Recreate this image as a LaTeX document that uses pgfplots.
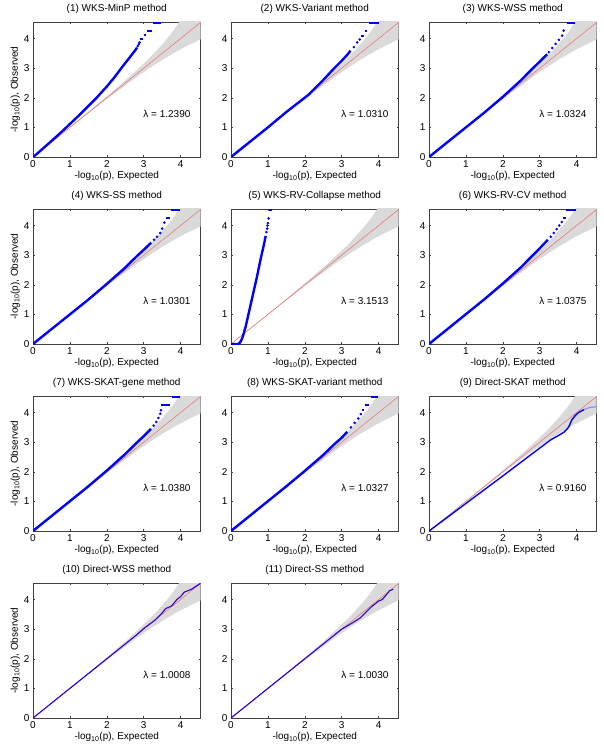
\documentclass[border=0pt]{standalone}
\usepackage{fontspec}
\setmainfont{Liberation Sans}
\usepackage{pgfplots}
\pgfplotsset{compat=1.18}
\usepgfplotslibrary{groupplots}

\definecolor{qqblue}{RGB}{0,0,255}
\definecolor{qqred}{RGB}{232,110,110}
\definecolor{qqband}{RGB}{218,218,218}

% 95% band of the expected order statistics (same in every panel)
\newcommand{\band}{%
  \addplot[fill=qqband,draw=none] coordinates {
    (0,0) (1.54,1.568) (2.063,2.115) (2.239,2.301) (2.54,2.63) (2.841,2.97)
    (3.063,3.234) (3.239,3.45) (3.364,3.616) (3.54,3.86) (3.695,4.09)
    (3.841,4.33) (4.063,4.75) (4.239,5.16) (4.54,6.14)
    (4.54,3.97) (4.239,3.79) (4.063,3.68) (3.841,3.53) (3.695,3.42)
    (3.54,3.31) (3.364,3.167) (3.239,3.07) (3.063,2.92) (2.841,2.73)
    (2.54,2.45) (2.239,2.179) (2.063,2.016) (1.54,1.514) (0,0)} -- cycle;
  \addplot[qqred,line width=0.5pt] coordinates {(0,0) (4.6,4.6)};
}
\newcommand{\lam}[1]{\node[font=\fontsize{10}{12}\selectfont] at (axis cs:3.63,1.47) {λ = #1};}

\pgfplotsset{
  qq/.style={
    scale only axis,width=167.5pt,height=135pt,
    xmin=0,xmax=4.54,ymin=0,ymax=4.56,
    xtick={0,1,2,3,4},ytick={0,1,2,3,4},
    tick align=inside,tick pos=both,major tick length=2pt,
    axis line style={black!75,line width=0.4pt},
    tick style={black!75,line width=0.4pt},
    /pgf/number format/assume math mode=true,
    tick label style={font=\fontsize{10}{12}\selectfont},
    label style={font=\fontsize{10}{12}\selectfont},
    title style={font=\fontsize{10}{12}\selectfont,yshift=-1pt},
    xlabel={-log\textsubscript{10}(p), Expected},
    xlabel style={yshift=3pt},
    ylabel style={yshift=-3pt},
  },
  bl/.style={qqblue,line width=2.4pt,line join=round},
  tiedash/.style={color=qqblue,solid,line width=2pt},
  dots/.style={qqblue,only marks,mark=*,mark size=1.1pt},
}

\begin{document}
\begin{tikzpicture}
\begin{groupplot}[qq,group style={group size=3 by 4,horizontal sep=30.5pt,vertical sep=52pt}]

% (1)
\nextgroupplot[title={(1) WKS-MinP method},ylabel={-log\textsubscript{10}(p), Observed}]
\band
\addplot[bl] coordinates {(0,0) (0.1,0.1) (0.2,0.21) (0.3,0.32) (0.5,0.54) (0.75,0.82)
  (0.92,1.02) (1.25,1.41) (1.5,1.72) (1.73,2.01) (2.0,2.38) (2.2,2.68) (2.41,3.03)
  (2.6,3.33) (2.78,3.62) (2.82,3.70)};
\addplot[dots] coordinates {(2.84,3.75) (2.87,3.81) (2.89,3.87)};
\addplot[tiedash] coordinates {(2.91,3.98) (2.98,3.98)};
\addplot[tiedash] coordinates {(3.0,4.12) (3.07,4.12)};
\addplot[tiedash] coordinates {(3.09,4.27) (3.22,4.27)};
\addplot[tiedash] coordinates {(3.24,4.53) (3.46,4.53)};
\lam{1.2390}

% (2)
\nextgroupplot[title={(2) WKS-Variant method}]
\band
\addplot[bl] coordinates {(0,0) (1,1.0) (1.5,1.52) (2.1,2.1) (2.5,2.6) (2.8,3.0)
  (3.0,3.25) (3.15,3.45) (3.24,3.59)};
\addplot[dots] coordinates {(3.33,3.71) (3.42,3.87) (3.49,3.97)};
\addplot[tiedash] coordinates {(3.53,4.08) (3.6,4.08)};
\addplot[tiedash] coordinates {(3.62,4.27) (3.69,4.27)};
\addplot[tiedash] coordinates {(3.73,4.53) (4.0,4.53)};
\lam{1.0310}

% (3)
\nextgroupplot[title={(3) WKS-WSS method}]
\band
\addplot[bl] coordinates {(0,0) (1.5,1.5) (2,2.03) (2.5,2.6) (2.8,2.98) (3.0,3.22) (3.2,3.47)};
\addplot[dots] coordinates {(3.25,3.54) (3.34,3.68) (3.43,3.82) (3.52,3.96) (3.61,4.1) (3.65,4.27)};
\addplot[tiedash] coordinates {(3.74,4.53) (3.97,4.53)};
\lam{1.0324}

% (4)
\nextgroupplot[title={(4) WKS-SS method},ylabel={-log\textsubscript{10}(p), Observed}]
\band
\addplot[bl] coordinates {(0,0) (1.5,1.5) (2,2.03) (2.5,2.58) (2.8,2.95) (3.0,3.18) (3.2,3.42)};
\addplot[dots] coordinates {(3.28,3.52) (3.36,3.62) (3.45,3.75) (3.5,3.9) (3.56,4.1)};
\addplot[tiedash] coordinates {(3.6,4.27) (3.7,4.27)};
\addplot[tiedash] coordinates {(3.75,4.53) (3.98,4.53)};
\lam{1.0301}

% (5)
\nextgroupplot[title={(5) WKS-RV-Collapse method}]
\band
\addplot[bl] coordinates {(0,0) (0.18,0) (0.22,0.02) (0.27,0.1) (0.32,0.25) (0.4,0.6)
  (0.5,1.15) (0.6,1.7) (0.7,2.25) (0.8,2.85) (0.9,3.4) (0.94,3.65)};
\addplot[dots] coordinates {(0.96,3.78) (0.98,3.9) (0.99,4.0) (1.0,4.08) (1.02,4.24)};
\addplot[tiedash] coordinates {(1.03,4.53) (1.1,4.53)};
\lam{3.1513}

% (6)
\nextgroupplot[title={(6) WKS-RV-CV method}]
\band
\addplot[bl] coordinates {(0,0) (1.5,1.51) (2,2.04) (2.5,2.6) (2.8,2.98) (3.0,3.23) (3.22,3.52)};
\addplot[dots] coordinates {(3.3,3.62) (3.38,3.75) (3.46,3.88) (3.53,4.0) (3.6,4.12)};
\addplot[tiedash] coordinates {(3.63,4.27) (3.7,4.27)};
\addplot[tiedash] coordinates {(3.72,4.53) (3.98,4.53)};
\lam{1.0375}

% (7)
\nextgroupplot[title={(7) WKS-SKAT-gene method},ylabel={-log\textsubscript{10}(p), Observed}]
\band
\addplot[bl] coordinates {(0,0) (1.5,1.51) (2,2.04) (2.5,2.6) (2.8,2.97) (3.0,3.2) (3.2,3.45)};
\addplot[dots] coordinates {(3.27,3.56) (3.34,3.68) (3.4,3.82) (3.45,3.96) (3.47,4.08)};
\addplot[tiedash] coordinates {(3.48,4.24) (3.72,4.24)};
\addplot[tiedash] coordinates {(3.76,4.53) (3.98,4.53)};
\lam{1.0380}

% (8)
\nextgroupplot[title={(8) WKS-SKAT-variant method}]
\band
\addplot[bl] coordinates {(0,0) (1.5,1.51) (2,2.03) (2.5,2.57) (2.8,2.93) (3.0,3.15) (3.15,3.35)};
\addplot[dots] coordinates {(3.25,3.5) (3.35,3.65) (3.45,3.8) (3.52,3.95)};
\addplot[tiedash] coordinates {(3.55,4.1) (3.61,4.1)};
\addplot[tiedash] coordinates {(3.63,4.24) (3.75,4.24)};
\addplot[tiedash] coordinates {(3.8,4.53) (3.98,4.53)};
\lam{1.0327}

% (9)
\nextgroupplot[title={(9) Direct-SKAT method}]
\band
\addplot[qqblue,line width=1.4pt] coordinates {(0,0) (1,0.93) (2,1.86) (2.5,2.33) (3,2.8)
  (3.3,3.08) (3.5,3.22) (3.65,3.33) (3.75,3.45) (3.8,3.55) (3.87,3.75) (3.95,3.88)
  (4.05,4.0) (4.2,4.1)};
\addplot[qqblue!45,line width=1.2pt] coordinates {(4.2,4.1) (4.35,4.17) (4.54,4.2)};
\lam{0.9160}

% (10)
\nextgroupplot[title={(10) Direct-WSS method},ylabel={-log\textsubscript{10}(p), Observed}]
\band
\addplot[blue!82!red,line width=1.1pt] coordinates {(0,0) (2.8,2.8) (3.0,3.02) (3.3,3.3)
  (3.5,3.55) (3.6,3.7) (3.75,3.78) (3.8,3.85) (3.9,4.0) (4.0,4.1) (4.1,4.25)
  (4.3,4.35) (4.54,4.55)};
\lam{1.0008}

% (11)
\nextgroupplot[title={(11) Direct-SS method}]
\band
\addplot[blue!82!red,line width=1.1pt] coordinates {(0,0) (3,3) (3.3,3.22) (3.5,3.38)
  (3.6,3.5) (3.8,3.75) (3.9,3.85) (4.0,3.95) (4.1,4.0) (4.2,4.15) (4.3,4.3) (4.4,4.35)};
\lam{1.0030}

\end{groupplot}
\path ([xshift=-33pt,yshift=22pt]group c1r1.north west) rectangle ([xshift=571pt,yshift=-730pt]group c1r1.north west);
\end{tikzpicture}
\end{document}
